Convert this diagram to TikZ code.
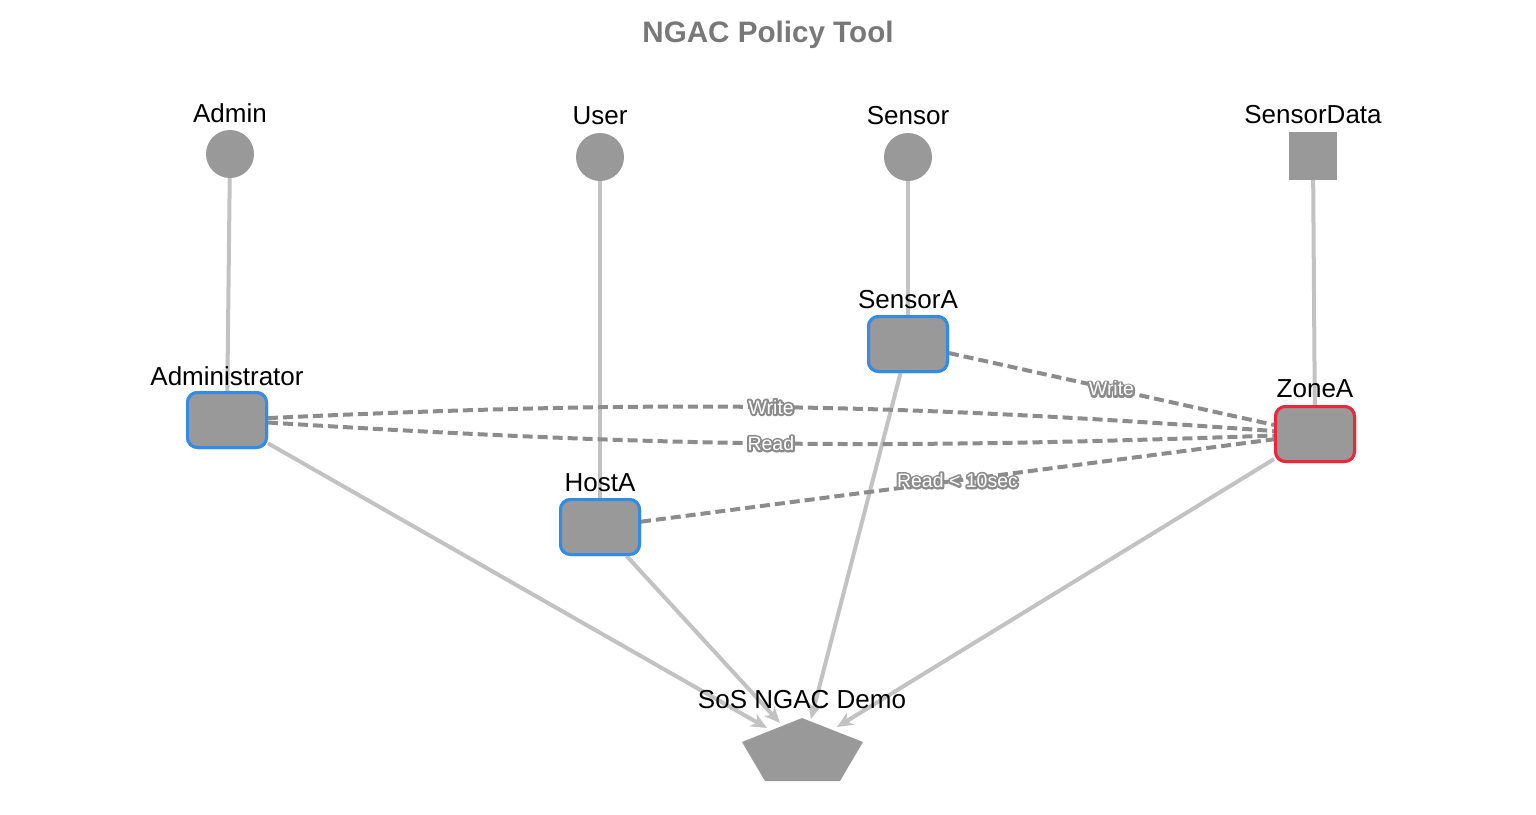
\documentclass[tikz,border=0pt]{standalone}
\usepackage{fontspec}
\setmainfont{Liberation Sans}
\usetikzlibrary{arrows.meta}
\definecolor{nodegray}{RGB}{153,153,153}
\definecolor{solidgray}{RGB}{194,194,194}
\definecolor{dashgray}{RGB}{140,140,140}
\definecolor{blueborder}{RGB}{50,140,230}
\definecolor{redborder}{RGB}{232,40,60}
\definecolor{titlegray}{RGB}{120,120,120}
\tikzset{
  circ/.style={circle,fill=nodegray,minimum size=48pt,inner sep=0},
  sq/.style={rectangle,fill=nodegray,minimum size=48pt,inner sep=0},
  rbox/.style={rectangle,rounded corners=10pt,fill=nodegray,draw=blueborder,line width=3pt,minimum width=79pt,minimum height=55pt,inner sep=0},
  zbox/.style={rbox,draw=redborder},
  lab/.style={font=\fontsize{26}{28}\selectfont,text=black,inner sep=0},
  solidedge/.style={draw=solidgray,line width=4pt},
  arrowedge/.style={solidedge,-{Stealth[length=16pt,width=14pt,inset=5pt]}},
  dashedge/.style={draw=dashgray,line width=4pt,dash pattern=on 10pt off 5pt},
  elab/.style={font=\fontsize{19.5}{21}\selectfont,inner sep=0},
}
\newcommand{\halo}[1]{\rlap{\special{pdf:literal direct q 1 Tr 4 w 1 j}\textcolor{dashgray}{#1}\special{pdf:literal direct Q}}\textcolor{white}{#1}}
\begin{document}
\begin{tikzpicture}[x=1pt,y=-1pt]
\useasboundingbox (0,0) rectangle (1536,814);
% title
\node[font=\bfseries\fontsize{29.6}{32}\selectfont,text=titlegray,inner sep=0] (title) at (768,35) {NGAC Policy Tool};
% nodes
\node[circ] (admin) at (230,154) {};
\node[circ] (user) at (600,157) {};
\node[circ] (sensor) at (908,157) {};
\node[sq] (sdata) at (1313,156) {};
\node[rbox] (adm) at (227,420) {};
\node[rbox] (host) at (600,527) {};
\node[rbox] (sena) at (908,344) {};
\node[zbox] (zone) at (1315,434) {};
\coordinate (t1) at (767,728);
\coordinate (t2) at (780,723);
\coordinate (t3) at (811,719);
\coordinate (t4) at (837,727);
% solid edges
\draw[solidedge] (admin) -- (adm);
\draw[solidedge] (user) -- (host);
\draw[solidedge] (sensor) -- (sena);
\draw[solidedge] (sdata) -- (zone);
\draw[arrowedge] (adm) -- (t1);
\draw[arrowedge] (host) -- (t2);
\draw[arrowedge] (sena) -- (t3);
\draw[arrowedge] (zone) -- (t4);
% dashed edges
\draw[dashedge] (adm) to[bend left=3.4] node[elab] (lw1) {\halo{Write}} (zone);
\draw[dashedge] (adm) to[bend right=2.8] node[elab] (lr1) {\halo{Read}} (zone);
\draw[dashedge] (sena) -- node[elab,pos=0.5] (lw2) {\halo{Write}} (zone);
\draw[dashedge] (host) -- node[elab,pos=0.5] (lr2) {\halo{Read < 10sec}} (zone);
% redraw nodes on top
\node[rbox] at (adm) {};
\node[rbox] at (host) {};
\node[rbox] at (sena) {};
\node[zbox] at (zone) {};
% pentagon
\fill[nodegray] (802,718) -- (863,742) -- (840,781) -- (765,781) -- (742,742) -- cycle;
% labels
\node[lab] (adminl) at (230,113) {Admin};
\node[lab] (userl) at (600,116) {User};
\node[lab] (sensorl) at (908,116) {Sensor};
\node[lab] (sdatal) at (1313,115) {SensorData};
\node[lab] (adml) at (227,376) {Administrator};
\node[lab] (hostl) at (600,483) {HostA};
\node[lab] (senal) at (908,300) {SensorA};
\node[lab] (zonel) at (1315,389) {ZoneA};
\node[lab] (demol) at (802,700) {SoS NGAC Demo};
\end{tikzpicture}
\end{document}
